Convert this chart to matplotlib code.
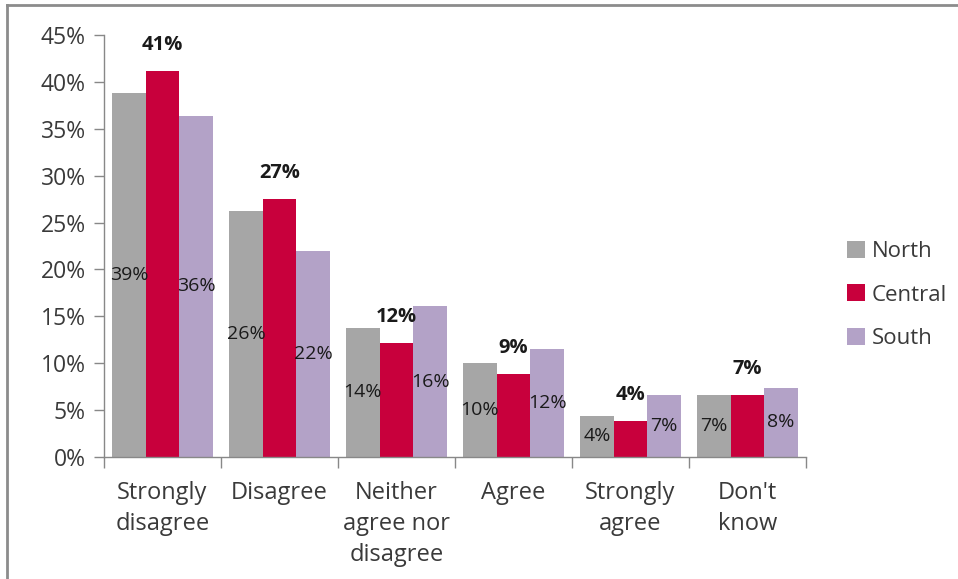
import matplotlib
matplotlib.use("Agg")
import matplotlib.pyplot as plt
from matplotlib.lines import Line2D
from matplotlib.patches import Patch
import numpy as np

plt.rcParams['font.family'] = ['Open Sans', 'DejaVu Sans']

categories = ["Strongly\ndisagree", "Disagree", "Neither\nagree nor\ndisagree", "Agree", "Strongly\nagree", "Don't\nknow"]
series_names = ["North", "Central", "South"]
north = [38.8, 26.2, 13.8, 10.0, 4.4, 6.6]
central = [41.2, 27.5, 12.2, 8.8, 3.8, 6.6]
south = [36.4, 22.0, 16.1, 11.5, 6.6, 7.4]
north_labels = ["39%", "26%", "14%", "10%", "4%", "7%"]
central_labels = ["41%", "27%", "12%", "9%", "4%", "7%"]
south_labels = ["36%", "22%", "16%", "12%", "7%", "8%"]
colors = ["#a6a6a6", "#c8003c", "#b3a2c7"]
yticks = [0, 5, 10, 15, 20, 25, 30, 35, 40, 45]

fig = plt.figure(figsize=(9.58, 5.79), dpi=100)
ax = fig.add_axes([104/958, 1-457/579, (806-104)/958, (457-35)/579])

x = np.arange(len(categories))
w = 0.287
data = [north, central, south]
for i, (vals, c) in enumerate(zip(data, colors)):
    ax.bar(x + (i-1)*w, vals, width=w, color=c, edgecolor='none', zorder=2)

for j in range(len(categories)):
    ax.text(x[j] - w, north[j]/2, north_labels[j], ha='center', va='center', fontsize=14, color='#1a1a1a')
    ax.text(x[j] + w, south[j]/2, south_labels[j], ha='center', va='center', fontsize=14, color='#1a1a1a')
    ax.annotate(central_labels[j], (x[j], central[j]), xytext=(0, 26), textcoords='offset pixels',
                ha='center', va='center', fontsize=14.5, fontweight='bold', color='#1a1a1a')

ax.set_xlim(-0.5, len(categories)-0.5)
ax.set_ylim(0, 45)
ax.set_yticks(yticks)
ax.set_yticklabels([f"{t}%" for t in yticks], fontsize=16.5, color='#3a3a3a')
ax.set_xticks(x)
ax.set_xticklabels(categories, fontsize=17, color='#3a3a3a', linespacing=1.4)
ax.tick_params(axis='x', length=0, pad=17)
ax.tick_params(axis='y', length=7, color='#888888', pad=6, width=1)
ax.set_xticks(np.arange(len(categories)+1) - 0.5, minor=True)
ax.tick_params(axis='x', which='minor', length=8, color='#888888', width=1, direction='out')

for s in ['top', 'right']:
    ax.spines[s].set_visible(False)
for s in ['left', 'bottom']:
    ax.spines[s].set_color('#888888')
    ax.spines[s].set_linewidth(1)

handles = [Patch(facecolor=c, edgecolor='none') for c in colors]
leg = fig.legend(handles, series_names, loc='center left', bbox_to_anchor=(847/958, 1-295/579),
                 frameon=False, fontsize=16, handlelength=0.8, handleheight=0.8,
                 handletextpad=0.3, labelspacing=1.02, labelcolor='#3a3a3a',
                 borderpad=0, borderaxespad=0)

fig.add_artist(Line2D([7/958, 1], [1-5/579, 1-5/579], color='#8c8c8c', lw=2, transform=fig.transFigure))
fig.add_artist(Line2D([7/958, 7/958], [0, 1-5/579], color='#8c8c8c', lw=2, transform=fig.transFigure))

fig.savefig("out.png", dpi=100, facecolor='white')
